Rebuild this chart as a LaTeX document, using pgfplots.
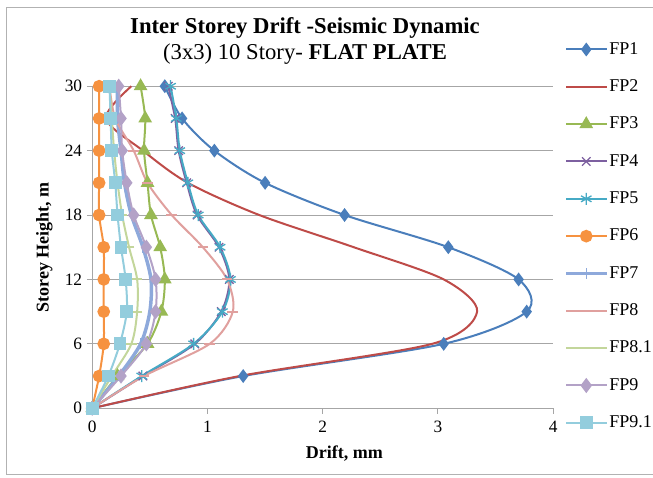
\documentclass[border=0pt]{standalone}
\usepackage{pgfplots}
\pgfplotsset{compat=1.18}
\usepackage{fontspec}
\setmainfont{Liberation Serif}

\definecolor{cFPa}{HTML}{4A7EBB}
\definecolor{cFPb}{HTML}{BE4B48}
\definecolor{cFPc}{HTML}{98B954}
\definecolor{cFPd}{HTML}{7D60A0}
\definecolor{cFPe}{HTML}{46AAC5}
\definecolor{cFPf}{HTML}{F69240}
\definecolor{cFPg}{HTML}{8EA9DB}
\definecolor{cFPh}{HTML}{E0A09E}
\definecolor{cFPi}{HTML}{C3D69B}
\definecolor{cFPj}{HTML}{B3A2C7}
\definecolor{cFPk}{HTML}{93CDDD}

\begin{document}
\begin{tikzpicture}[x=0.75pt,y=0.75pt]
\useasboundingbox (0,0) rectangle (653,478);
\draw[gray!60, line width=0.75pt] (660,470) -- (6,470) -- (6,3) -- (660,3);
\node[align=center, font=\fontsize{17}{19}\selectfont] at (305,437)
  {\textbf{Inter Storey Drift -Seismic Dynamic}\\(3x3) 10 Story- \textbf{FLAT PLATE}};
\begin{axis}[
  at={(80,65)}, anchor=south west,
  scale only axis, width=345.75pt, height=241.5pt,
  xmin=0, xmax=4, ymin=0, ymax=30,
  xtick={0,1,2,3,4}, ytick={0,6,12,18,24,30},
  axis x line*=bottom, axis y line*=left,
  axis line style={draw=gray!70, line width=0.75pt},
  tick style={draw=gray!70, line width=0.75pt},
  tick align=outside, major tick length=4pt,
  ymajorgrids, grid style={draw=gray!70, line width=0.75pt},
  ticklabel style={font=\fontsize{13}{15}\selectfont},
  xticklabel style={yshift=-2pt},
  /pgf/number format/assume math mode=true,
  xlabel={\textbf{Drift, mm}}, ylabel={\textbf{Storey Height, m}},
  label style={font=\fontsize{13.5}{15}\selectfont},
  xlabel style={at={(axis description cs:0.547,-0.14)}, anchor=center},
  ylabel style={at={(axis description cs:-0.104,0.5)}, anchor=center},
  clip=false,
  every axis plot/.append style={smooth, tension=0.5, line width=1.5pt},
  legend cell align=left,
  legend style={at={(1.024,1.146)}, anchor=north west, draw=none, fill=none,
    font=\fontsize{13.5}{15}\selectfont, row sep=13pt, inner sep=0pt,
    nodes={text height=10pt, text depth=3pt, inner sep=1pt}},
  legend image code/.code={%
    \draw[mark repeat=2, mark phase=2, #1] plot coordinates {(0pt,0pt) (15pt,0pt) (30pt,0pt)};},
]
\addplot[cFPa, mark=diamond*, mark size=4pt] coordinates {(0,0) (1.31,3) (3.05,6) (3.77,9) (3.70,12) (3.09,15) (2.19,18) (1.50,21) (1.06,24) (0.78,27) (0.63,30)};
\addlegendentry{FP1}
\addplot[cFPb] coordinates {(0,0) (1.28,3) (2.95,6) (3.34,9) (3.05,12) (2.27,15) (1.45,18) (0.83,21) (0.44,24) (0.12,27) (0.34,30)};
\addlegendentry{FP2}
\addplot[cFPc, mark=triangle*, mark size=4.5pt] coordinates {(0,0) (0.22,3) (0.48,6) (0.60,9) (0.63,12) (0.59,15) (0.51,18) (0.48,21) (0.45,24) (0.46,27) (0.42,30)};
\addlegendentry{FP3}
\addplot[cFPd, mark=x, mark size=4.5pt, mark options={line width=1pt}] coordinates {(0,0) (0.44,3) (0.89,6) (1.12,9) (1.19,12) (1.10,15) (0.91,18) (0.82,21) (0.75,24) (0.72,27) (0.66,30)};
\addlegendentry{FP4}
\addplot[cFPe, mark=asterisk, mark size=4.5pt, mark options={line width=1pt}] coordinates {(0,0) (0.43,3) (0.88,6) (1.13,9) (1.20,12) (1.11,15) (0.92,18) (0.83,21) (0.76,24) (0.73,27) (0.68,30)};
\addlegendentry{FP5}
\addplot[cFPf, mark=*, mark size=4pt] coordinates {(0,0) (0.06,3) (0.10,6) (0.10,9) (0.10,12) (0.10,15) (0.06,18) (0.06,21) (0.06,24) (0.06,27) (0.06,30)};
\addlegendentry{FP6}
\addplot[cFPg, line width=2.6pt, mark=|, mark size=4pt, mark options={line width=1pt}] coordinates {(0,0) (0.23,3) (0.42,6) (0.50,9) (0.51,12) (0.44,15) (0.34,18) (0.28,21) (0.25,24) (0.22,27) (0.22,30)};
\addlegendentry{FP7}
\addplot[cFPh, mark=-, mark size=4pt, mark options={line width=1.5pt}] coordinates {(0,0) (0.45,3) (1.02,6) (1.22,9) (1.17,12) (0.96,15) (0.69,18) (0.48,21) (0.36,24) (0.20,27) (0.15,30)};
\addlegendentry{FP8}
\addplot[cFPi, mark=-, mark size=4pt, mark options={line width=1.5pt}] coordinates {(0,0) (0.17,3) (0.34,6) (0.39,9) (0.39,12) (0.32,15) (0.26,18) (0.22,21) (0.19,24) (0.17,27) (0.15,30)};
\addlegendentry{FP8.1}
\addplot[cFPj, mark=diamond*, mark size=4.5pt] coordinates {(0,0) (0.25,3) (0.47,6) (0.55,9) (0.55,12) (0.47,15) (0.36,18) (0.30,21) (0.26,24) (0.25,27) (0.23,30)};
\addlegendentry{FP9}
\addplot[cFPk, mark=square*, mark size=4pt] coordinates {(0,0) (0.14,3) (0.24,6) (0.30,9) (0.29,12) (0.25,15) (0.22,18) (0.20,21) (0.17,24) (0.16,27) (0.15,30)};
\addlegendentry{FP9.1}
\end{axis}
\end{tikzpicture}
\end{document}
